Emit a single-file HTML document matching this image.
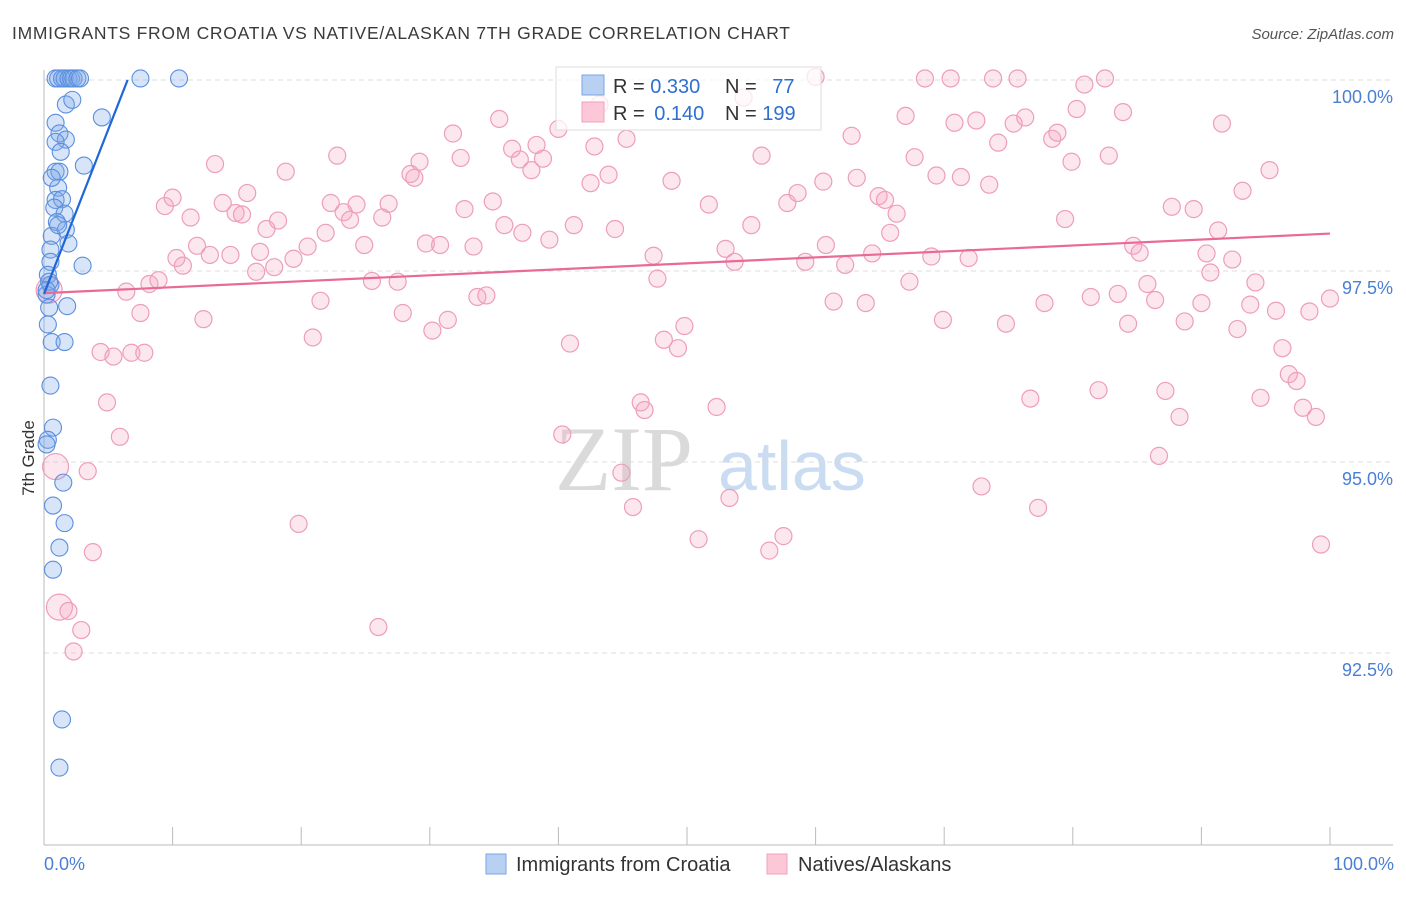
<!DOCTYPE html>
<html><head><meta charset="utf-8"><style>
body{margin:0;background:#fff;font-family:"Liberation Sans",sans-serif}
</style></head><body>
<svg id="c" width="1406" height="892" xmlns="http://www.w3.org/2000/svg">
<text x="12" y="39" font-size="17.5" fill="#3a3a3a" textLength="778" lengthAdjust="spacing">IMMIGRANTS FROM CROATIA VS NATIVE/ALASKAN 7TH GRADE CORRELATION CHART</text>
<text x="1394" y="39" font-size="15" fill="#555" font-style="italic" text-anchor="end">Source: ZipAtlas.com</text>
<text transform="translate(34,458) rotate(-90)" font-size="17" fill="#333" text-anchor="middle">7th Grade</text>
<g><text x="555" y="490" font-size="92" fill="#dadada" font-family="Liberation Serif,serif">ZIP</text><text x="718" y="490" font-size="70" fill="#cadcf1">atlas</text></g>
<g id="grid"></g><g id="axes"></g><g id="pts"></g><g id="lines"></g>
<g>
<rect x="556" y="67" width="265" height="63" fill="#fff" fill-opacity="0.75" stroke="#ddd"/>
<rect x="582" y="75" width="22" height="20" fill="#b8d0f2" stroke="#7aa6e6"/>
<rect x="582" y="102" width="22" height="20" fill="#fcc8d8" stroke="#f0a0bd"/>
<text x="613" y="93" font-size="20" fill="#333">R = <tspan fill="#2f6fd0">0.330</tspan></text>
<text x="725" y="93" font-size="20" fill="#333">N = <tspan fill="#2f6fd0" dx="10">77</tspan></text>
<text x="613" y="120" font-size="20" fill="#333">R = <tspan fill="#2f6fd0" dx="4">0.140</tspan></text>
<text x="725" y="120" font-size="20" fill="#333">N = <tspan fill="#2f6fd0">199</tspan></text>
</g>
<g>
<rect x="486" y="854" width="20" height="20" fill="#b8d0f2" stroke="#7aa6e6"/>
<text x="516" y="871" font-size="20" fill="#333">Immigrants from Croatia</text>
<rect x="767" y="854" width="20" height="20" fill="#fcc8d8" stroke="#f0a0bd"/>
<text x="798" y="871" font-size="20" fill="#333">Natives/Alaskans</text>
</g>
<text x="44" y="870" font-size="18" fill="#4a7fd4">0.0%</text>
<text x="1394" y="870" font-size="18" fill="#4a7fd4" text-anchor="end">100.0%</text>
</svg>
<script>
const yTicks=[100,97.5,95,92.5];
const yTickLabels=["100.0%","97.5%","95.0%","92.5%"];
const blueX=[0.9,1.1,1.4,1.6,1.9,2.1,2.3,2.6,2.8,7.5,10.5,1.7,4.5,0.9,1.2,1.7,0.9,1.3,3.1,0.9,1.2,1.1,0.9,1.4,0.8,1.6,1.0,1.7,0.6,1.9,0.5,0.5,3.0,0.3,0.5,0.2,0.4,1.8,0.3,0.6,1.6,0.5,0.7,0.3,0.2,1.5,0.7,1.6,1.2,0.7,1.4,1.2,0.4,0.2,0.6,1.1,2.2];
const blueY=[100.02,100.02,100.02,100.02,100.02,100.02,100.02,100.02,100.02,100.02,100.02,99.68,99.51,99.44,99.30,99.22,99.19,99.06,98.88,98.80,98.80,98.59,98.43,98.44,98.33,98.25,98.14,98.04,97.96,97.86,97.78,97.62,97.57,97.45,97.32,97.19,97.02,97.04,96.80,96.57,96.57,96.00,95.45,95.29,95.23,94.73,94.43,94.20,93.88,93.59,91.63,91.00,97.36,97.25,98.72,98.10,99.74];
const pinkX=[0.4,0.9,1.2,1.9,2.9,2.3,3.4,3.8,4.4,5.4,4.9,5.9,6.8,7.8,6.4,7.5,8.2,8.9,9.4,10.0,10.3,10.8,11.4,11.9,12.4,12.9,13.3,13.9,14.5,14.9,15.4,15.8,16.5,16.8,17.3,17.9,18.2,18.8,19.4,19.8,20.5,20.9,21.5,21.9,22.3,22.8,23.3,23.8,24.3,24.9,25.5,26.0,26.3,26.8,27.5,27.9,28.5,28.8,29.2,29.7,30.2,30.8,31.4,31.8,32.4,32.7,33.4,33.7,34.4,34.9,35.4,35.8,36.4,37.0,37.2,37.9,38.3,38.8,39.3,40.0,40.3,40.9,41.2,42.5,42.8,43.2,43.9,44.4,44.9,45.3,45.8,46.4,46.7,47.4,47.7,48.2,48.8,49.3,49.8,50.9,51.7,52.3,53.0,53.3,53.7,54.4,55.0,55.8,56.4,57.5,57.8,58.6,59.2,60.0,60.6,60.8,61.4,62.3,62.8,63.2,63.9,64.4,64.9,65.4,65.8,66.3,67.0,67.3,67.7,68.5,69.0,69.4,69.9,70.5,70.8,71.3,71.9,72.5,72.9,73.5,73.8,74.2,74.8,75.4,75.7,76.3,76.7,77.3,77.8,78.4,78.8,79.4,79.9,80.3,80.9,81.4,82.0,82.5,82.8,83.5,83.9,84.3,84.7,85.2,85.8,86.4,86.7,87.2,87.7,88.3,88.7,89.4,90.0,90.4,90.7,91.3,91.6,92.4,92.8,93.2,93.8,94.2,94.6,95.3,95.8,96.3,96.8,97.4,97.9,98.4,98.9,99.3,100.0];
const pinkY=[97.25,94.94,93.10,93.05,92.80,92.52,94.88,93.82,96.44,96.38,95.78,95.33,96.43,96.43,97.23,96.95,97.33,97.38,98.35,98.46,97.67,97.57,98.20,97.83,96.87,97.71,98.90,98.39,97.71,98.26,98.24,98.52,97.49,97.75,98.05,97.55,98.16,98.80,97.66,94.19,97.82,96.63,97.11,98.00,98.39,99.01,98.27,98.17,98.37,97.84,97.37,92.84,98.20,98.38,97.36,96.95,98.77,98.72,98.93,97.86,96.72,97.84,96.86,99.30,98.98,98.31,97.82,97.16,97.18,98.41,99.49,98.10,99.10,98.96,98.00,98.82,99.15,98.97,97.91,99.36,95.36,96.55,98.10,98.65,99.13,99.68,98.76,98.05,94.86,99.23,94.41,95.78,95.68,97.70,97.40,96.60,98.68,96.49,96.78,93.99,98.37,95.72,97.79,94.53,97.62,99.77,98.10,99.01,93.84,94.03,98.39,98.52,97.62,100.04,98.67,97.84,97.10,97.58,99.27,98.72,97.08,97.73,98.48,98.43,98.00,98.25,99.53,97.36,98.99,100.02,97.69,98.75,96.86,100.02,99.44,98.73,97.67,99.47,94.68,98.63,100.02,99.18,96.81,99.43,100.02,99.51,95.83,94.40,97.08,99.23,99.31,98.18,98.93,99.62,99.94,97.16,95.94,100.02,99.01,97.20,99.58,96.81,97.83,97.74,97.33,97.12,95.08,95.93,98.34,95.59,96.84,98.31,97.08,97.73,97.48,98.03,99.43,97.65,96.74,98.55,97.06,97.35,95.84,98.82,96.98,96.49,96.15,96.06,95.71,96.97,95.59,93.92,97.14];
const blueTrend=[[0,97.2],[6.5,100]];
const pinkTrend=[[0,97.21],[100,97.99]];
const NS="http://www.w3.org/2000/svg";
const X0=44,X1=1330,Y100=80,PX=76.4;
function sx(v){return X0+(X1-X0)*v/100;}
function sy(v){return Y100+(100-v)*PX;}
function mk(t,a,p){const e=document.createElementNS(NS,t);for(const k in a)e.setAttribute(k,a[k]);p.appendChild(e);return e;}
const grid=document.getElementById('grid'),axes=document.getElementById('axes'),pts=document.getElementById('pts'),lines=document.getElementById('lines');
yTicks.forEach((t,i)=>{
 const l=mk('line',{x1:X0,x2:1393,y1:sy(t),y2:sy(t),stroke:'#dcdcdc','stroke-dasharray':'5,4'},grid);
 
 
 const tx=mk('text',{x:1393,y:sy(t)+23,'font-size':18,fill:'#4a7fd4','text-anchor':'end'},grid);
 tx.textContent=yTickLabels[i];
 
 
});
const ax=mk('line',{x1:X0,x2:X0,y1:70,y2:845,stroke:'#bbb'},axes);


const bx=mk('line',{x1:X0,x2:1393,y1:845,y2:845,stroke:'#bbb'},axes);


for(let i=1;i<=10;i++){const t=mk('line',{x1:sx(i*10),x2:sx(i*10),y1:827,y2:845,stroke:'#bbb'},axes);
 
 }
pinkX.forEach((x,i)=>{const c=mk('circle',{cx:sx(x),cy:sy(pinkY[i]),r:(x<1.5&&i<3)?13:8.5,fill:'#f5a8c3','fill-opacity':0.28,stroke:'#ee9dba','stroke-width':1.2},pts);
 
 });
blueX.forEach((x,i)=>{const c=mk('circle',{cx:sx(x),cy:sy(blueY[i]),r:8.5,fill:'#7eaae8','fill-opacity':0.3,stroke:'#5a8fe0','stroke-width':1.1},pts);
 
 });
const pl=mk('line',{x1:sx(pinkTrend[0][0]),y1:sy(pinkTrend[0][1]),x2:sx(pinkTrend[1][0]),y2:sy(pinkTrend[1][1]),stroke:'#e86a98','stroke-width':2.2},lines);


const bl=mk('line',{x1:sx(blueTrend[0][0]),y1:sy(blueTrend[0][1]),x2:sx(blueTrend[1][0]),y2:sy(blueTrend[1][1]),stroke:'#1f66d6','stroke-width':2.2},lines);


</script>
</body></html>
